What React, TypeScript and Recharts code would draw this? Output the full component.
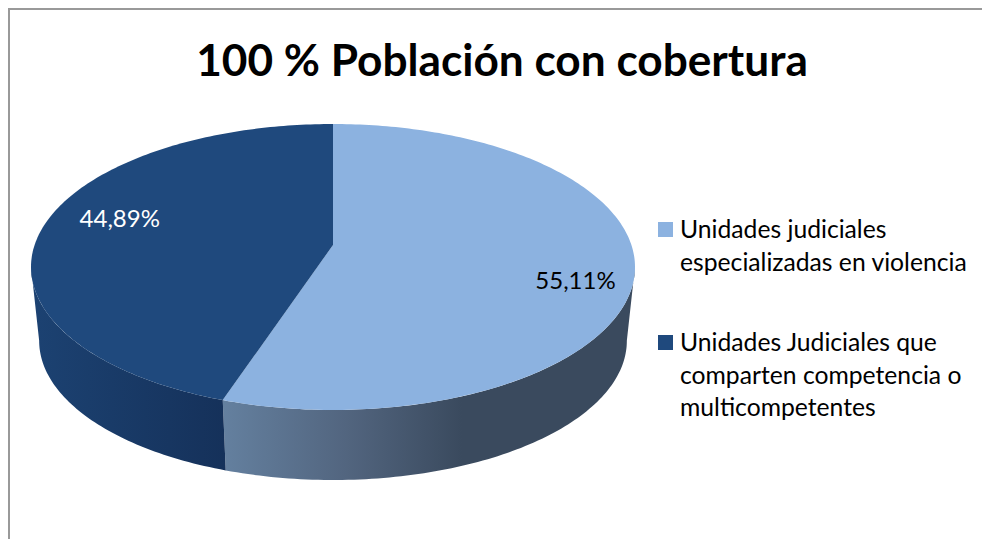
import { PieChart, Pie, Legend } from "recharts";

const categories = [
  "Unidades judiciales especializadas en violencia",
  "Unidades Judiciales que comparten competencia o multicompetentes",
];
const shares = [55.11, 44.89];
const topColors = ["#8cb2e0", "#1f497d"];
const wallFills = ["url(#wallLight)", "url(#wallDark)"];
const labelColors = ["#000000", "#ffffff"];
const legendLines = [
  ["Unidades judiciales", "especializadas en violencia"],
  ["Unidades Judiciales que", "comparten competencia o", "multicompetentes"],
];

const data = categories.map((name, i) => ({ name, value: shares[i], fill: topColors[i], wall: wallFills[i] }));

const FONT = "Lato, sans-serif";
const CX = 333;
const CY = 245;
const RADIUS = 150;

// the pie is tilted with some perspective, so a flat circle is projected onto the page
const TILT = 0.1538;
const SCALE_X = 298.4 / RADIUS;
const SCALE_Y = 139.6 / RADIUS;
const DEPTH = 74.5;
const FLOOR_SCALE = 0.973;
const WALL_FROM = 98.8;
const WALL_TO = 261.2;

// clock angle: 0 at the top, growing clockwise
function project(clock: number, r: number, floor = false) {
  const rad = (clock * Math.PI) / 180;
  const u = (Math.sin(rad) * r) / RADIUS;
  const v = (-Math.cos(rad) * r) / RADIUS;
  const w = 1 - TILT * v;
  const s = floor ? FLOOR_SCALE : 1;
  return {
    x: CX + (SCALE_X * RADIUS * u * s) / w,
    y: CY + (floor ? DEPTH : 0) + (SCALE_Y * RADIUS * v * s) / w,
  };
}

function rim(from: number, to: number, r: number, floor = false) {
  const pts: string[] = [];
  const steps = Math.max(2, Math.ceil(Math.abs(to - from)));
  for (let i = 0; i <= steps; i++) {
    const p = project(from + ((to - from) * i) / steps, r, floor);
    pts.push(`${p.x.toFixed(2)},${p.y.toFixed(2)}`);
  }
  return pts;
}

function Slice3D(props: any) {
  const { startAngle, endAngle, outerRadius, fill, payload } = props;
  const a = 90 - startAngle;
  const b = 90 - endAngle;
  const wa = Math.max(a, WALL_FROM);
  const wb = Math.min(b, WALL_TO);
  const wall = [...rim(wa, wb, outerRadius), ...rim(wb, wa, outerRadius, true)];
  const top = [`${CX},${CY}`, ...rim(a, b, outerRadius)];
  return (
    <g>
      {wb > wa && <polygon points={wall.join(" ")} fill={payload?.wall ?? props.wall} />}
      <polygon points={top.join(" ")} fill={fill} />
    </g>
  );
}

function SliceLabel(props: any) {
  const { midAngle, outerRadius, value, index } = props;
  const p = project(90 - midAngle, outerRadius * (index === 0 ? 0.807 : 0.737));
  return (
    <text
      x={p.x}
      y={p.y + (index === 0 ? 16 : -11)}
      textAnchor="middle"
      dominantBaseline="central"
      fontFamily={FONT}
      fontSize={24}
      fill={labelColors[index]}
    >
      {value.toFixed(2).replace(".", ",")}%
    </text>
  );
}

function LegendBox() {
  return (
    <div style={{ fontFamily: FONT, fontSize: 24.7, lineHeight: "32.5px", color: "#000" }}>
      {legendLines.map((lines, i) => (
        <div key={i} style={{ position: "relative", paddingLeft: 22, marginBottom: i === 0 ? 48 : 0 }}>
          <span
            style={{ position: "absolute", left: 0, top: 9, width: 15, height: 15, background: topColors[i] }}
          />
          {lines.map((line) => (
            <div key={line} style={{ whiteSpace: "nowrap" }}>
              {line}
            </div>
          ))}
        </div>
      ))}
    </div>
  );
}

export default function App() {
  return (
    <div style={{ position: "absolute", left: 0, top: 0, width: 982, height: 539, background: "#fff" }}>
      <div
        style={{
          position: "absolute",
          left: 8,
          top: 8,
          width: 980,
          height: 540,
          border: "2px solid #999999",
          boxSizing: "border-box",
        }}
      />
      <PieChart width={982} height={539} margin={{ top: 0, right: 0, bottom: 0, left: 0 }} style={{ position: "absolute" }}>
        <defs>
          <linearGradient id="wallLight" x1="0" y1="0" x2="1" y2="0">
            <stop offset="0" stopColor="#64809f" />
            <stop offset="0.3" stopColor="#52657f" />
            <stop offset="0.58" stopColor="#3a4a5e" />
            <stop offset="1" stopColor="#3a4a5e" />
          </linearGradient>
          <linearGradient id="wallDark" x1="0" y1="0" x2="1" y2="0">
            <stop offset="0" stopColor="#1c4272" />
            <stop offset="1" stopColor="#15315a" />
          </linearGradient>
        </defs>
        <text x={502} y={76} textAnchor="middle" fontFamily={FONT} fontSize={44.2} fontWeight={700} fill="#000">
          100 % Población con cobertura
        </text>
        <Pie
          data={data}
          dataKey="value"
          nameKey="name"
          cx={CX}
          cy={CY}
          outerRadius={RADIUS}
          startAngle={90}
          endAngle={-270}
          stroke="none"
          shape={Slice3D}
          label={SliceLabel}
          labelLine={false}
          isAnimationActive={false}
        />
        <Legend
          content={<LegendBox />}
          layout="vertical"
          wrapperStyle={{ position: "absolute", left: 658, top: 213, width: 320, bottom: "auto" }}
        />
      </PieChart>
    </div>
  );
}
